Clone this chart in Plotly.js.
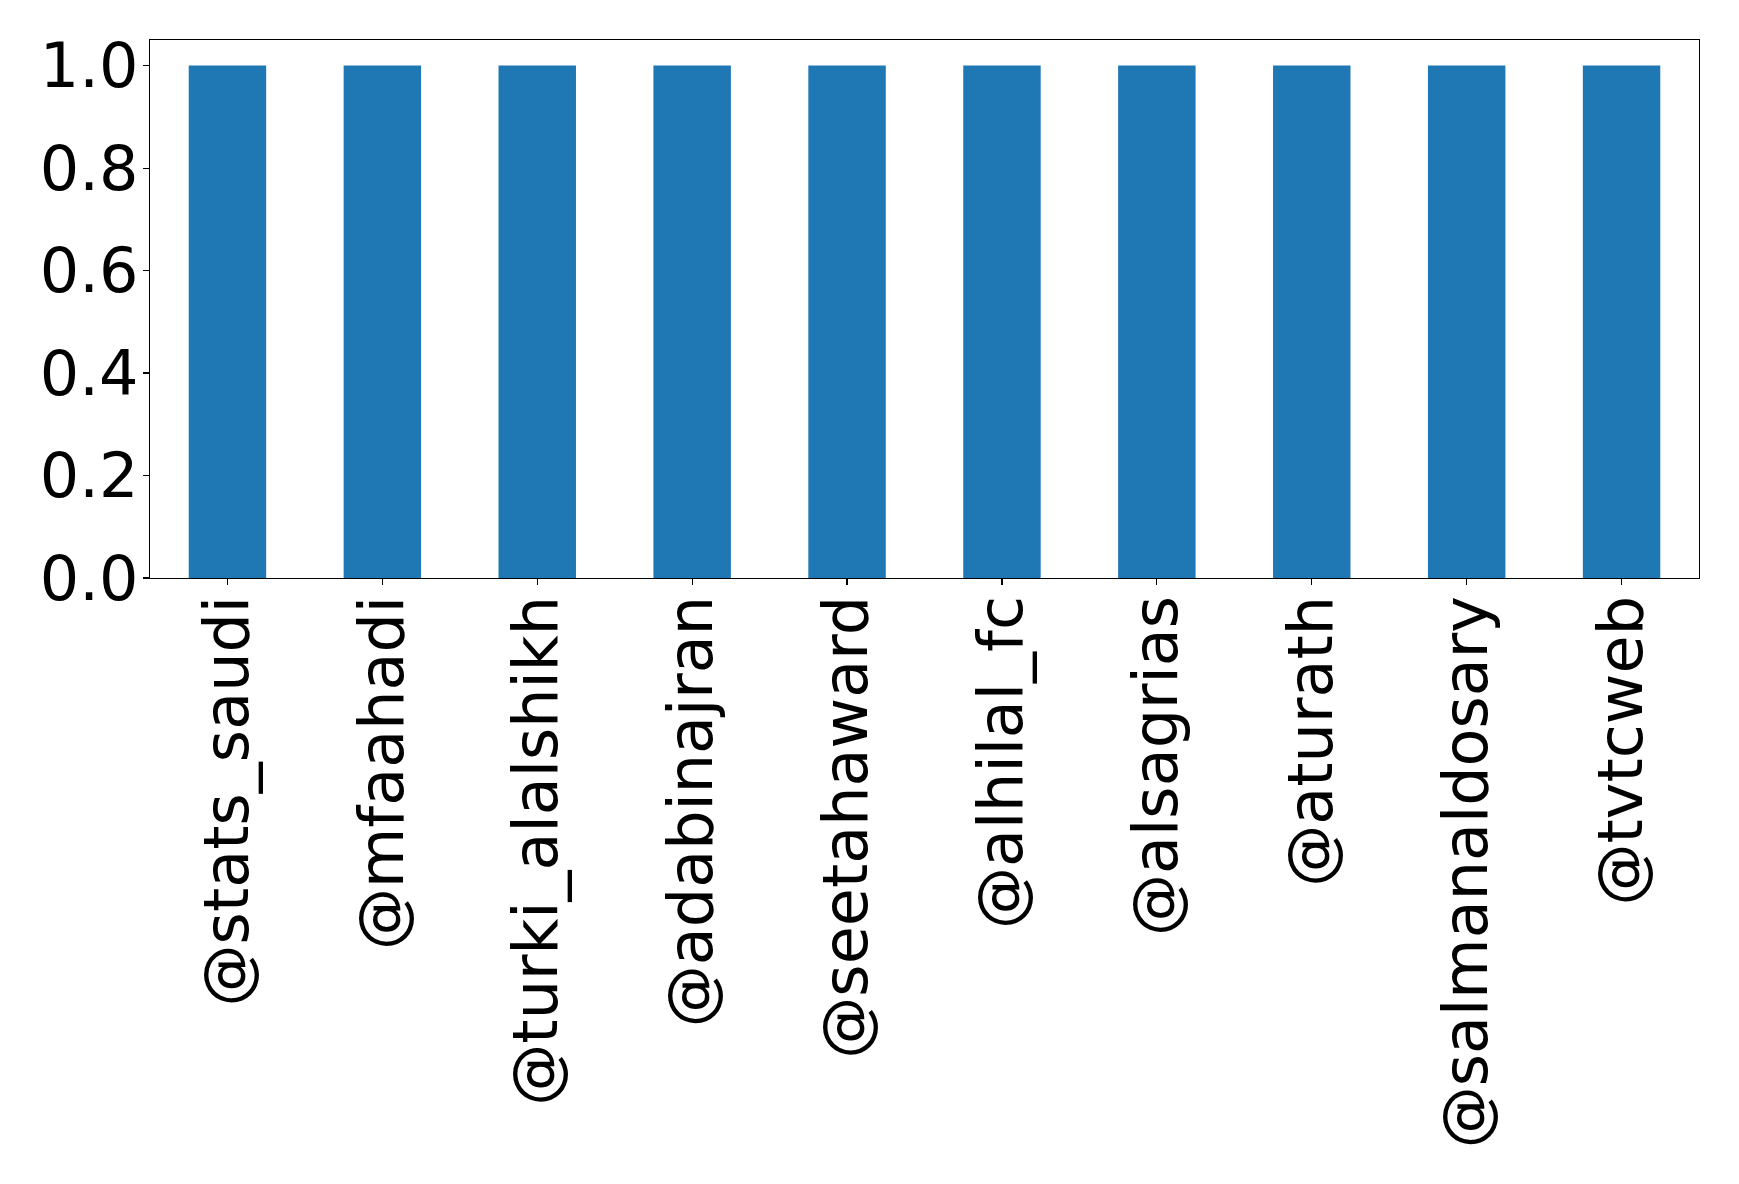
<!DOCTYPE html>
<html>
<head>
<meta charset="utf-8">
<script src="https://cdn.plot.ly/plotly-3.0.1.min.js"></script>
<style>
  html, body { margin: 0; padding: 0; background: #ffffff; }
  #chart { width: 1739px; height: 1184px; }
</style>
</head>
<body>
<div id="chart"></div>
<script>
// Twitter accounts and their values
const accounts = [
  "@stats_saudi", "@mfaahadi", "@turki_alalshikh", "@adabinajran", "@seetahaward",
  "@alhilal_fc", "@alsagrias", "@aturath", "@salmanaldosary", "@tvtcweb"
];
const values = [1, 1, 1, 1, 1, 1, 1, 1, 1, 1];
const yTicks = [0, 0.2, 0.4, 0.6, 0.8, 1.0];

const fontFamily = "DejaVu Sans, sans-serif";

const trace = {
  type: "bar",
  x: accounts,
  y: values,
  width: 0.5,
  marker: { color: "#1f77b4", line: { width: 0 } },
  hoverinfo: "x+y"
};

const layout = {
  width: 1739,
  height: 1184,
  paper_bgcolor: "#ffffff",
  plot_bgcolor: "#ffffff",
  margin: { l: 150, r: 40, t: 40, b: 606, pad: 0 },
  showlegend: false,
  font: { family: fontFamily, color: "#000000" },
  xaxis: {
    type: "category",
    range: [-0.5, accounts.length - 0.5],
    tickangle: -90,
    ticks: "outside",
    ticklen: 6,
    tickwidth: 1.1,
    tickcolor: "#000000",
    ticklabelstandoff: -14,
    showline: true,
    linecolor: "#000000",
    linewidth: 1.2,
    mirror: true,
    showgrid: false,
    zeroline: false,
    tickfont: { family: fontFamily, size: 62, color: "#000000" },
    automargin: false
  },
  yaxis: {
    range: [0, 1.05],
    tickvals: yTicks,
    tickformat: ".1f",
    ticks: "outside",
    ticklen: 6,
    tickwidth: 1.1,
    tickcolor: "#000000",
    ticklabelstandoff: -8,
    showline: true,
    linecolor: "#000000",
    linewidth: 1.2,
    mirror: true,
    showgrid: false,
    zeroline: false,
    tickfont: { family: fontFamily, size: 62, color: "#000000" },
    automargin: false
  }
};

Plotly.newPlot("chart", [trace], layout, { displayModeBar: false, staticPlot: true });
</script>
</body>
</html>
